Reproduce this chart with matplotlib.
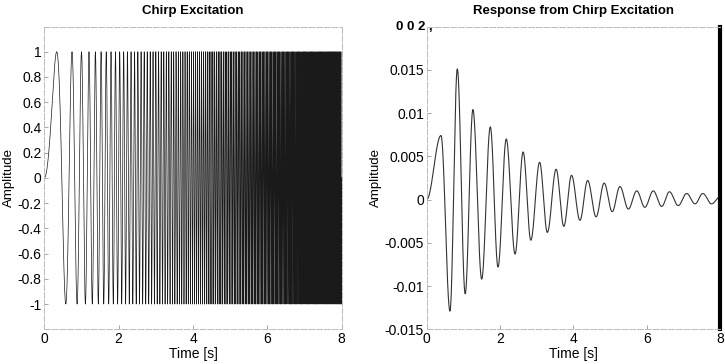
import numpy as np
import matplotlib
matplotlib.use("Agg")
import matplotlib.pyplot as plt

# ---- data ----
# Chirp excitation parameters
chirp_duration = 8.0          # s
chirp_f0 = 0.0                # Hz at t = 0
chirp_f1 = 36.0               # Hz at t = 8 s
chirp_amplitude = 1.0

# Response: extrema (time [s], amplitude)
resp_t = [0.0, 0.39, 0.635, 0.835, 1.05, 1.26, 1.50, 1.735, 1.945, 2.17, 2.41,
          2.63, 2.84, 3.08, 3.29, 3.53, 3.74, 3.95, 4.18, 4.39, 4.62, 4.84,
          5.06, 5.27, 5.50, 5.73, 5.95, 6.18, 6.41, 6.62, 6.86, 7.09, 7.32,
          7.53, 7.77, 8.0]
resp_v = [0.0, 0.0074, -0.0129, 0.0151, -0.0109, 0.0104, -0.0092, 0.0084,
          -0.0078, 0.0070, -0.0063, 0.0055, -0.0047, 0.0043, -0.0038, 0.0035,
          -0.0031, 0.0028, -0.0024, 0.0022, -0.0020, 0.0019, -0.0014, 0.0015,
          -0.0011, 0.0010, -0.0009, 0.0010, -0.0008, 0.0009, -0.0007, 0.0007,
          -0.0005, 0.0007, -0.0005, 0.0003]

left_yticks = [-1, -0.8, -0.6, -0.4, -0.2, 0, 0.2, 0.4, 0.6, 0.8, 1]
left_yticklabels = ["-1", "-0.8", "-0.6", "-0.4", "-0.2", "0", "0.2", "0.4", "0.6", "0.8", "1"]
right_yticks = [-0.015, -0.01, -0.005, 0, 0.005, 0.01, 0.015]
right_yticklabels = ["-0.015", "-0.01", "-0.005", "0", "0.005", "0.01", "0.015"]
xticks = [0, 2, 4, 6, 8]
xticklabels = ["0", "2", "4", "6", "8"]

# ---- build curves ----
t = np.linspace(0, chirp_duration, 40001)
k = (chirp_f1 - chirp_f0) / chirp_duration
chirp = chirp_amplitude * np.sin(2 * np.pi * (chirp_f0 * t + 0.5 * k * t ** 2))

rt, rv = [], []
for i in range(len(resp_t) - 1):
    ta, tb = resp_t[i], resp_t[i + 1]
    va, vb = resp_v[i], resp_v[i + 1]
    s = np.linspace(0, 1, 60, endpoint=False)
    rt.append(ta + (tb - ta) * s)
    rv.append(va + (vb - va) * (1 - np.cos(np.pi * s)) / 2)
rt.append([resp_t[-1]])
rv.append([resp_v[-1]])
rt = np.concatenate(rt)
rv = np.concatenate(rv)

# ---- figure ----
plt.rcParams['font.family'] = ['Liberation Sans', 'DejaVu Sans']
fig = plt.figure(figsize=(7.25, 3.64), dpi=100)

H = 364.0
W = 725.0
bottom = (H - 329.3) / H
height = (329.3 - 26.5) / H

ax1 = fig.add_axes([44.3 / W, bottom, (341.7 - 44.3) / W, height])
ax2 = fig.add_axes([426.7 / W, bottom, (720 - 426.7) / W, height])

ax1.plot(t, chirp, color='#1a1a1a', lw=0.5)
ax1.set_xlim(0, 8)
ax1.set_ylim(-1.2, 1.2)
ax1.set_yticks(left_yticks)
ax1.set_yticklabels(left_yticklabels)
ax1.set_title("Chirp Excitation", fontsize=9.5, fontweight='bold', pad=9)
ax1.set_ylabel("Amplitude", fontsize=9.5, labelpad=2)

ax2.plot(rt, rv, color='#333333', lw=0.8)
ax2.set_xlim(0, 8)
ax2.set_ylim(-0.015, 0.02)
ax2.set_yticks(right_yticks)
ax2.set_yticklabels(right_yticklabels)
ax2.set_title("Response from Chirp Excitation", fontsize=9.5, fontweight='bold', pad=9)
ax2.set_ylabel("Amplitude", fontsize=9.5, labelpad=2)
fig.text(414 / W, 1 - 27 / H, "0 0 2 ,", fontsize=9.5, fontweight='bold',
         ha='center', va='center')

for ax in (ax1, ax2):
    ax.set_xticks(xticks)
    ax.set_xticklabels(xticklabels)
    ax.set_xlabel("Time [s]", fontsize=10, labelpad=1)
    ax.tick_params(direction='in', length=3, width=0.6, color='#999999',
                   labelsize=10, pad=2)
    for sp in ax.spines.values():
        sp.set_color('#bbbbbb')
        sp.set_linewidth(0.7)
        sp.set_linestyle((0, (6, 2)))

ax2.spines['right'].set_color('black')
ax2.spines['right'].set_linewidth(3)
ax2.spines['right'].set_linestyle('-')

fig.savefig("out.png", dpi=100)
